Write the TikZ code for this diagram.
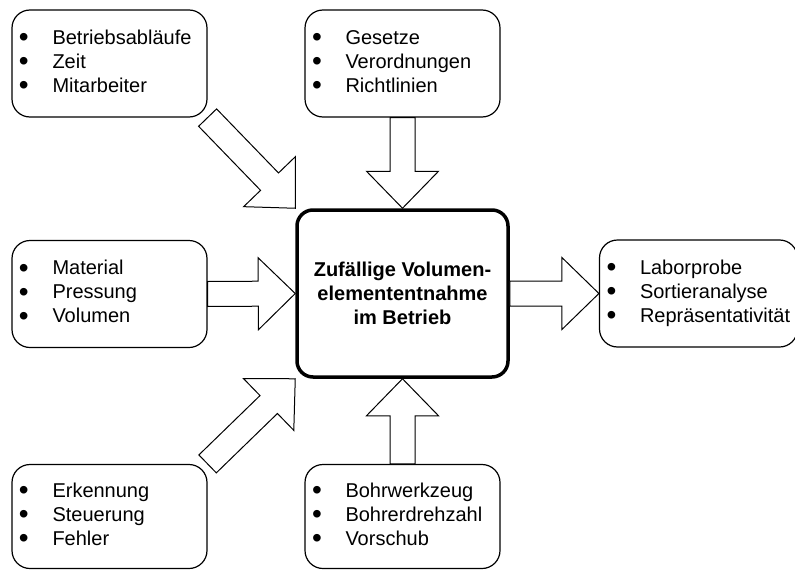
\documentclass[tikz,border=0pt]{standalone}
\usepackage{fontspec}
\setmainfont{Liberation Sans}
\usetikzlibrary{calc}
\tikzset{
  kasten/.style={draw, line width=1.2pt, rounded corners=18pt, text width=181pt, align=left,
    minimum height=107pt, inner xsep=7pt, inner ysep=0pt, font=\fontsize{20}{24}\selectfont},
  zentrum/.style={draw, line width=3.5pt, rounded corners=16pt, minimum width=211pt,
    minimum height=167pt, align=center, font=\fontsize{20}{24}\selectfont\bfseries},
  pfeilform/.style={draw, line width=1pt, fill=white, line join=miter}
}
\newcommand\punkt{\raisebox{-2.5pt}[0pt][0pt]{\fontsize{28}{24}\selectfont\textbullet}}
\newcommand\liste[3]{\begin{tabular}{@{}p{33.5pt}@{}l@{}}\punkt&#1\\\punkt&#2\\\punkt&#3\end{tabular}}
\newcommand\blockpfeil[2]{%
  \coordinate (pa) at (#1);
  \coordinate (pb) at (#2);
  \coordinate (pk) at ($(pb)!37pt!(pa)$);
  \draw[pfeilform] ($(pa)!12.5pt!90:(pb)$) -- ($(pk)!12.5pt!90:(pb)$) -- ($(pk)!36pt!90:(pb)$) -- (pb)
    -- ($(pk)!36pt!-90:(pb)$) -- ($(pk)!12.5pt!-90:(pb)$) -- ($(pa)!12.5pt!-90:(pb)$) -- cycle;}
\begin{document}
\begin{tikzpicture}[x=1pt, y=-1pt]
  \useasboundingbox (0,0) rectangle (795,570);
  \clip (0,0) rectangle (795,570);
  \node[kasten] (betrieb) at (109.5,63.5) {\liste{Betriebsabläufe}{Zeit}{Mitarbeiter}};
  \node[kasten] (recht) at (402.5,63.5) {\liste{Gesetze}{Verordnungen}{Richtlinien}};
  \node[kasten] (material) at (109.5,294) {\liste{Material}{Pressung}{Volumen}};
  \node[kasten, text width=184pt] (ergebnis) at (698.5,293.5) {\liste{Laborprobe}{Sortieranalyse}{Repräsentativität}};
  \node[kasten, minimum height=104pt] (fehler) at (109.5,516.5) {\liste{Erkennung}{Steuerung}{Fehler}};
  \node[kasten, minimum height=104pt] (bohren) at (402.5,516.5) {\liste{Bohrwerkzeug}{Bohrerdrehzahl}{Vorschub}};
  \node[zentrum] (zentral) at (402.5,293.5) {Zufällige Volumen-\\elemententnahme\\im Betrieb};
  \blockpfeil{betrieb.south east}{zentral.north west}
  \blockpfeil{recht.south}{zentral.north}
  \blockpfeil{material.east}{zentral.west}
  \blockpfeil{fehler.north east}{zentral.south west}
  \blockpfeil{bohren.north}{zentral.south}
  \blockpfeil{zentral.east}{ergebnis.west}
\end{tikzpicture}
\end{document}
